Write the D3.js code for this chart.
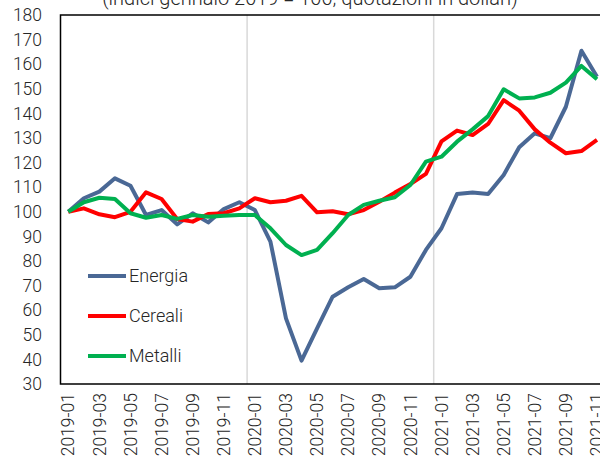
<!DOCTYPE html>
<meta charset="utf-8">
<style>
body { margin: 0; }
svg { display: block; font-family: Roboto, sans-serif; font-weight: 300; }
.axis .domain { display: none; }
.axis .tick line { display: none; }
</style>
<body>
<svg width="600" height="457"></svg>
<script src="https://d3js.org/d3.v7.min.js"></script>
<script>

var months = ["2019-01","2019-02","2019-03","2019-04","2019-05","2019-06","2019-07","2019-08","2019-09","2019-10","2019-11","2019-12",
              "2020-01","2020-02","2020-03","2020-04","2020-05","2020-06","2020-07","2020-08","2020-09","2020-10","2020-11","2020-12",
              "2021-01","2021-02","2021-03","2021-04","2021-05","2021-06","2021-07","2021-08","2021-09","2021-10","2021-11","2021-12"];

var energia = [100,105.5,108.2,113.6,110.6,98.7,100.7,94.9,99.4,95.7,101.1,103.9,
               100.7,87.9,56.7,39.5,52.6,65.5,69.3,72.7,68.9,69.3,73.6,84.5,
               93.3,107.2,107.8,107.2,115,126.2,131.9,129.9,142.7,165.5,154.9];
var cereali = [100,101.4,99,97.8,100,107.9,105.2,97.1,96,99.1,99.4,101.4,
               105.5,103.9,104.5,106.5,99.8,100.2,99,100.7,104.1,107.8,111.3,115.4,
               128.6,133,131.2,135.7,145.4,141.1,133.5,128.1,123.8,124.7,129.2];
var metalli = [100,103.9,105.7,105.2,99.4,97.6,98.7,97.1,98.7,98,98.4,98.7,
               98.7,93.3,86.5,82.4,84.5,91.3,98.7,102.8,104.5,105.9,110.9,120.4,
               122.4,128.5,133.5,138.9,149.8,146.1,146.5,148.4,152.5,159.3,153.9];

var seriesNames = ["Energia","Cereali","Metalli"];
var yTicks = d3.range(30, 181, 10);
var xLabels = months.filter(function(d, i) { return i % 2 == 0; });
var yearStarts = ["2020-01","2021-01"];
var title = "(indici gennaio 2019 = 100; quotazioni in dollari)";

var svg = d3.select("svg"),
    margin = {top: 15, left: 60.5},
    plotBottom = 384;

var x = d3.scaleBand()
    .domain(months)
    .range([margin.left, margin.left + 15.55 * months.length]);

var y = d3.scaleLinear()
    .domain([30, 180])
    .range([plotBottom, margin.top]);

var z = d3.scaleOrdinal()
    .domain(seriesNames)
    .range(["#4a6895", "#ff0000", "#00b050"]);

var data = [
  {name: "Energia", values: energia},
  {name: "Cereali", values: cereali},
  {name: "Metalli", values: metalli}
];

// title (cut by the top of the picture)
svg.append("text")
    .attr("x", 310)
    .attr("y", 5)
    .attr("text-anchor", "middle")
    .attr("font-size", 20)
    .attr("fill", "#262626")
    .text(title);

// vertical separators between years
svg.append("g")
  .selectAll("line")
  .data(yearStarts)
  .enter().append("line")
    .attr("x1", function(d) { return x(d); })
    .attr("x2", function(d) { return x(d); })
    .attr("y1", margin.top)
    .attr("y2", plotBottom)
    .attr("stroke", "#d9d9d9")
    .attr("stroke-width", 1.5);

// frame
svg.append("path")
    .attr("d", "M600," + margin.top + "H" + margin.left + "V" + plotBottom + "H600")
    .attr("fill", "none")
    .attr("stroke", "#000")
    .attr("stroke-width", 1.5);

// y axis
svg.append("g")
    .attr("class", "axis")
    .attr("transform", "translate(42,0)")
    .call(d3.axisLeft(y).tickValues(yTicks).tickSize(0).tickPadding(0))
    .selectAll("text")
      .attr("font-size", 17.5)
      .attr("font-family", "Roboto, sans-serif")
      .attr("font-weight", 300)
      .attr("fill", "#262626");

// x axis
svg.append("g")
    .attr("class", "axis")
    .attr("transform", "translate(0," + plotBottom + ")")
    .call(d3.axisBottom(x).tickValues(xLabels).tickSize(0).tickPadding(0))
    .selectAll("text")
      .attr("font-size", 17.5)
      .attr("font-family", "Roboto, sans-serif")
      .attr("font-weight", 300)
      .attr("fill", "#262626")
      .attr("text-anchor", "end")
      .attr("transform", "translate(0,9) rotate(-90)")
      .attr("x", 0)
      .attr("y", 0)
      .attr("dy", "0.35em");

var line = d3.line()
    .x(function(d, i) { return x(months[i]) + x.bandwidth() / 2; })
    .y(function(d) { return y(d); });

svg.append("g")
  .selectAll("path")
  .data(data)
  .enter().append("path")
    .attr("d", function(d) { return line(d.values); })
    .attr("fill", "none")
    .attr("stroke", function(d) { return z(d.name); })
    .attr("stroke-width", 4)
    .attr("stroke-linejoin", "round");

// legend
var legend = svg.append("g")
  .selectAll("g")
  .data(seriesNames)
  .enter().append("g")
    .attr("transform", function(d, i) { return "translate(88," + (276 + i * 40) + ")"; });

legend.append("line")
    .attr("x1", 0)
    .attr("x2", 38)
    .attr("stroke", z)
    .attr("stroke-width", 4);

legend.append("text")
    .attr("x", 41)
    .attr("dy", "0.35em")
    .attr("font-size", 18)
    .attr("fill", "#262626")
    .text(function(d) { return d; });

</script>
</body>
